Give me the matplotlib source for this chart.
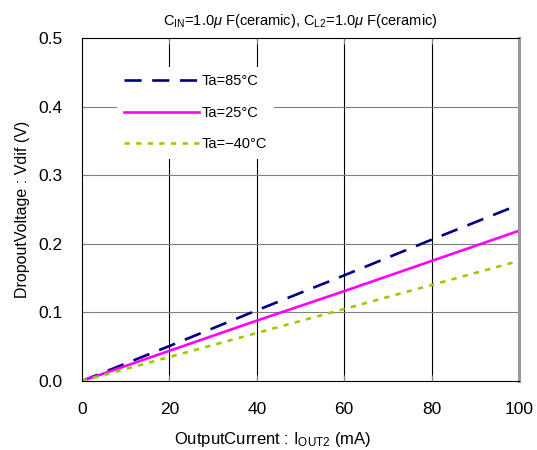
import matplotlib
matplotlib.use("Agg")
import matplotlib.pyplot as plt

plt.rcParams['font.family'] = ['Liberation Sans', 'Noto Sans CJK JP', 'DejaVu Sans']
plt.rcParams['mathtext.fontset'] = 'custom'
plt.rcParams['mathtext.rm'] = 'Liberation Sans'
plt.rcParams['mathtext.it'] = 'Liberation Sans:italic'

# data
current = [0, 20, 40, 60, 80, 100]
v_85 = [0, 0.051, 0.103, 0.154, 0.206, 0.257]
v_25 = [0, 0.044, 0.088, 0.131, 0.175, 0.219]
v_m40 = [0, 0.035, 0.070, 0.105, 0.140, 0.175]
labels = ["Ta=85°C", "Ta=25°C", "Ta=\u221240°C"]

fig = plt.figure(figsize=(5.37, 4.5), dpi=100)
ax = fig.add_axes([0.1527, 0.1533, 0.8138, 0.7623])

ax.plot(current, v_85, color="#000080", lw=1.9, dashes=(6.5, 4.0), label=labels[0])
ax.plot(current, v_25, color="#FF00FF", lw=1.9, label=labels[1])
ax.plot(current, v_m40, color="#99CC00", lw=1.9, dashes=(2.0, 2.4), label=labels[2])

ax.set_xlim(0, 100)
ax.set_ylim(0, 0.5)
ax.set_xticks(current)
ax.set_yticks([0.0, 0.1, 0.2, 0.3, 0.4, 0.5])
ax.set_yticklabels(["0.0", "0.1", "0.2", "0.3", "0.4", "0.5"])

for x in [20, 40, 60, 80]:
    ax.axvline(x, color="black", lw=0.8, zorder=0)
for y in [0.1, 0.2, 0.3, 0.4]:
    ax.axhline(y, color="#808080", lw=0.8, zorder=0)

for s in ["left", "bottom", "top"]:
    ax.spines[s].set_color("black")
    ax.spines[s].set_linewidth(0.8)
ax.spines["right"].set_color("#999999")
ax.spines["right"].set_linewidth(2.2)

ax.tick_params(direction="in", length=4, width=0.8, color="#808080",
               labelsize=12.5, top=True, right=False)
ax.tick_params(axis="x", pad=15)
ax.tick_params(axis="y", pad=14)

ax.set_xlabel(r"OutputCurrent : I$_{\mathrm{OUT2}}$ (mA)", fontsize=12)
ax.xaxis.set_label_coords(0.435, -0.143)
ax.set_ylabel("DropoutVoltage : Vdif (V)", fontsize=11.5, labelpad=6)
ax.set_title(r"C$_{\mathrm{IN}}$=1.0$\mathit{\mu}$ F(ceramic), C$_{\mathrm{L2}}$=1.0$\mathit{\mu}$ F(ceramic)",
             fontsize=10.5, pad=9)

leg = ax.legend(loc="upper left", bbox_to_anchor=(0.08, 0.915), borderaxespad=0,
                frameon=True, fontsize=10.5, handlelength=5.1, handletextpad=0.2,
                labelspacing=1.2, borderpad=0.5)
leg.get_frame().set_edgecolor("none")
leg.get_frame().set_facecolor("white")
leg.get_frame().set_alpha(1.0)
leg.get_frame().set_boxstyle("square", pad=0)

fig.savefig("out.png", dpi=100)
